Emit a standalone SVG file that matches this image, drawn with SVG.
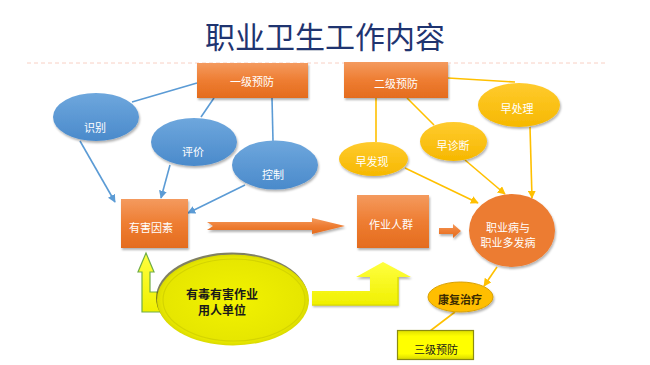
<svg xmlns="http://www.w3.org/2000/svg" width="650" height="365" viewBox="0 0 650 365">
<defs>
<style>
.t{font-family:"Noto Sans CJK SC","Liberation Sans",sans-serif;text-anchor:middle;dominant-baseline:central}
.w{fill:#ffffff;font-size:11px}
.k{fill:#1a1a1a;font-size:11px}
.bl{stroke:#5B9BD5;stroke-width:1.6;fill:none}
.yl{stroke:#FFC000;stroke-width:1.6;fill:none}
</style>
<linearGradient id="gO" x1="0" y1="0" x2="0" y2="1"><stop offset="0" stop-color="#F49A5E"/><stop offset="0.5" stop-color="#EE7D32"/><stop offset="1" stop-color="#E46C1E"/></linearGradient>
<linearGradient id="gB" x1="0" y1="0" x2="0" y2="1"><stop offset="0" stop-color="#6EA7DD"/><stop offset="1" stop-color="#4A8ACB"/></linearGradient>
<linearGradient id="gY" x1="0" y1="0" x2="0" y2="1"><stop offset="0" stop-color="#FFCB2E"/><stop offset="1" stop-color="#F6B800"/></linearGradient>
<linearGradient id="gYY" x1="0" y1="0" x2="0" y2="1"><stop offset="0" stop-color="#FFFF40"/><stop offset="1" stop-color="#F0F000"/></linearGradient>
<radialGradient id="gBig" cx="0.5" cy="0.5" r="0.55"><stop offset="0" stop-color="#F2F200"/><stop offset="0.85" stop-color="#E6E600"/><stop offset="1" stop-color="#C9C900"/></radialGradient>
<linearGradient id="gSq" x1="0" y1="0" x2="0" y2="1"><stop offset="0" stop-color="#E0E000"/><stop offset="0.2" stop-color="#FFFF00"/><stop offset="0.8" stop-color="#FFFF00"/><stop offset="1" stop-color="#D8D800"/></linearGradient>
<filter id="sh" x="-20%" y="-20%" width="140%" height="150%"><feDropShadow dx="1" dy="2" stdDeviation="1.2" flood-color="#000" flood-opacity="0.3"/></filter>
<marker id="mB" viewBox="0 0 10 10" refX="9" refY="5" markerWidth="8" markerHeight="8" markerUnits="userSpaceOnUse" orient="auto"><path d="M0,0 L10,5 L0,10 z" fill="#5B9BD5"/></marker>
<marker id="mY" viewBox="0 0 10 10" refX="9" refY="5" markerWidth="8" markerHeight="8" markerUnits="userSpaceOnUse" orient="auto"><path d="M0,0 L10,5 L0,10 z" fill="#FFC000"/></marker>
</defs>
<rect width="650" height="365" fill="#ffffff"/>
<g id="title">
<text x="325" y="35" class="t" style="font-size:30px;fill:#1F3470">职业卫生工作内容</text>
<line x1="27" y1="63" x2="608" y2="63" stroke="#F8D0C4" stroke-width="1" stroke-dasharray="4,3"/>
</g>
<g id="connectors">
<line class="bl" x1="197" y1="83" x2="132" y2="102"/>
<line class="bl" x1="214" y1="98" x2="201" y2="117"/>
<line class="bl" x1="272" y1="98" x2="273" y2="141"/>
<line class="bl" x1="80" y1="141" x2="115" y2="202" marker-end="url(#mB)"/>
<line class="bl" x1="170" y1="165" x2="161" y2="198" marker-end="url(#mB)"/>
<line class="bl" x1="245" y1="185" x2="188" y2="213" marker-end="url(#mB)"/>
<line class="yl" x1="448" y1="78" x2="515" y2="82"/>
<line class="yl" x1="376" y1="98" x2="376" y2="142"/>
<line class="yl" x1="407" y1="98" x2="434" y2="125"/>
<line class="yl" x1="405" y1="168" x2="478" y2="203" marker-end="url(#mY)"/>
<line class="yl" x1="465" y1="160" x2="505" y2="194" marker-end="url(#mY)"/>
<line class="yl" x1="530" y1="127" x2="532" y2="198" marker-end="url(#mY)"/>
<line class="yl" x1="497" y1="267" x2="484" y2="286" marker-end="url(#mY)"/>
<line class="yl" x1="455" y1="312" x2="430" y2="331"/>
<polygon points="207,222 312,222 312,218 345,226 312,234 312,230 207,230 213,226" fill="url(#gO)" filter="url(#sh)"/>
<polygon points="439,228 453,228 453,224 461,231 453,238 453,234 439,234" fill="url(#gO)" filter="url(#sh)"/>
<polygon points="142,312 142,272 138,272 146,253 154,272 150,272 150,292 170,292 170,312" fill="url(#gYY)" stroke="#70AD47" stroke-width="1.2"/>
<polygon points="312,291 370,291 370,277 356,277 383,262 411,277 398,277 398,305 312,305" fill="url(#gYY)" filter="url(#sh)"/>
<polyline points="312,305 398,305 398,277" fill="none" stroke="#E0E000" stroke-width="1.5"/>
</g>
<g id="n1"><rect x="197" y="63" width="111" height="35" fill="url(#gO)" filter="url(#sh)"/><text x="252" y="81" class="t w">一级预防</text></g>
<g id="n2"><rect x="344" y="62" width="104" height="36" fill="url(#gO)" filter="url(#sh)"/><text x="396" y="83" class="t w">二级预防</text></g>
<g id="n3"><ellipse cx="96" cy="117" rx="43" ry="24" fill="url(#gB)" filter="url(#sh)"/><text x="95" y="127" class="t w">识别</text></g>
<g id="n4"><ellipse cx="194" cy="142" rx="43" ry="24" fill="url(#gB)" filter="url(#sh)"/><text x="193" y="151" class="t w">评价</text></g>
<g id="n5"><ellipse cx="275" cy="165" rx="43" ry="24.5" fill="url(#gB)" filter="url(#sh)"/><text x="273" y="174" class="t w">控制</text></g>
<g id="n6"><rect x="121" y="199" width="67" height="49" fill="url(#gO)" filter="url(#sh)"/><text x="151" y="227" class="t w">有害因素</text></g>
<g id="n7"><rect x="357" y="195" width="72" height="53" fill="url(#gO)" filter="url(#sh)"/><text x="391" y="224" class="t w">作业人群</text></g>
<g id="n8"><ellipse cx="512" cy="230.5" rx="43" ry="36.5" fill="#EC7C32" filter="url(#sh)"/><text x="508" y="227" class="t w">职业病与</text><text x="508" y="242" class="t w">职业多发病</text></g>
<g id="n9"><ellipse cx="519" cy="105" rx="41" ry="22" fill="url(#gY)" filter="url(#sh)"/><text x="517" y="108" class="t w">早处理</text></g>
<g id="n10"><ellipse cx="453.5" cy="141.5" rx="33.5" ry="19.5" fill="url(#gY)" filter="url(#sh)"/><text x="453" y="145" class="t w">早诊断</text></g>
<g id="n11"><ellipse cx="373.5" cy="159" rx="34.5" ry="17" fill="url(#gY)" filter="url(#sh)"/><text x="372" y="161" class="t w">早发现</text></g>
<g id="n12"><ellipse cx="460.5" cy="297" rx="32.5" ry="15" fill="#FFBE00" stroke="#D9A000" stroke-width="1" filter="url(#sh)"/><text x="460" y="299" class="t k" style="font-weight:bold;fill:#3a2a00">康复治疗</text></g>
<g id="n13"><rect x="397.5" y="330.5" width="76" height="29" fill="url(#gSq)" stroke="#8C8C10" stroke-width="1.2"/><text x="436" y="349" class="t k">三级预防</text></g>
<g id="n14">
<ellipse cx="232" cy="298" rx="76" ry="45.5" fill="#4a4a20" opacity="0.7"/>
<ellipse cx="233" cy="300" rx="76" ry="45.5" fill="url(#gBig)"/>
<ellipse cx="234" cy="300" rx="71" ry="41" fill="none" stroke="#D4D400" stroke-width="1.2"/>
<text x="222" y="293" class="t k" style="font-weight:bold;font-size:12px">有毒有害作业</text>
<text x="222" y="309" class="t k" style="font-weight:bold;font-size:12px">用人单位</text>
</g>
</svg>
